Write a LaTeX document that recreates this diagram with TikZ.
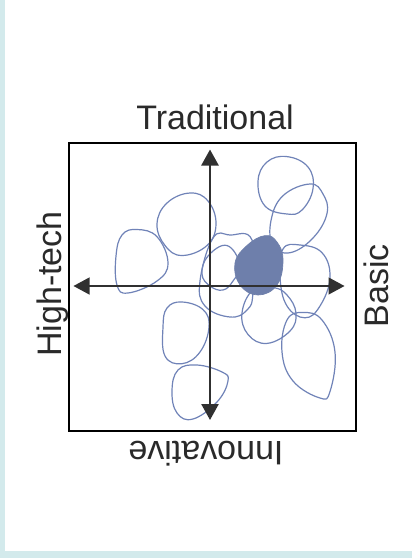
\documentclass[tikz,border=0pt]{standalone}
\usepackage{fontspec}
\setmainfont{Liberation Sans}
\usetikzlibrary{arrows.meta}
\definecolor{bgblue}{HTML}{D3EAEC}
\definecolor{blobline}{HTML}{7083B8}
\definecolor{blobfill}{HTML}{6E7FAB}
\definecolor{axisgray}{HTML}{303030}
\definecolor{textgray}{HTML}{2A2A2A}
\tikzset{
  blob/.style={draw=blobline, line width=0.9pt},
  core/.style={fill=blobfill, draw=blobfill, line width=0.5pt},
  axisline/.style={draw=axisgray, {Triangle[length=12pt,width=12.75pt]}-{Triangle[length=12pt,width=12.75pt]}},
  lab/.style={text=textgray, font=\fontsize{25.5}{30}\selectfont, inner sep=0pt, anchor=base}
}
\begin{document}
\begin{tikzpicture}[x=0.75pt,y=-0.75pt]
\useasboundingbox (0,0) rectangle (412,558);
\fill[bgblue] (0,0) rectangle (412,558);
\fill[white] (5,0) rectangle (412,551);
% blobs
\draw[blob] plot[smooth cycle, tension=0.7] coordinates {(137,229.5) (157,236.7) (168,263) (157,281) (128,293) (117,285) (116,256) (122,235)};
\draw[blob] plot[smooth cycle, tension=0.7] coordinates {(190,193) (208,201) (216,224) (207,245.5) (182,255.5) (165,245.5) (157,224) (167,203)};
\draw[blob] plot[smooth cycle, tension=0.7] coordinates {(287,156.6) (308,167) (313,188.6) (302,210) (287,214) (265,206) (258,181.5) (267,162)};
\draw[blob] plot[smooth cycle, tension=0.7] coordinates {(310,184) (323,194) (327,213.5) (313,238) (290,252.7) (273,245.5) (271,220.6) (283,195.7)};
\draw[blob] plot[smooth cycle, tension=0.7] coordinates {(213,238) (230,235) (252,240) (253,292) (247,310) (230,317) (205,306) (200,281)};
\draw[blob] plot[smooth cycle, tension=0.7] coordinates {(227,245.5) (240,265) (233,281) (223,290) (210,286) (202,274) (208,256)};
\draw[blob] plot[smooth cycle, tension=0.7] coordinates {(283,249) (300,245) (322,252.7) (330,277.6) (320,306) (305,317.8) (287,306) (280,277.6)};
\draw[blob] plot[smooth cycle, tension=0.7] coordinates {(273,287.5) (287,295) (296,313) (290,331) (267,343.4) (248,334.5) (242,313) (253,290)};
\draw[blob] plot[smooth cycle, tension=0.7] coordinates {(303,312.5) (322,320) (335,352) (330,391.5) (320,398) (293,381) (282,352) (287,320)};
\draw[blob] plot[smooth cycle, tension=0.7] coordinates {(182,302) (203,309.6) (209,327) (200,352) (182,363.7) (165,356) (163,327) (167,308)};
\draw[blob] plot[smooth cycle, tension=0.7] coordinates {(197,365) (222,372) (228,381) (217,402) (193,419) (177,413) (172,391) (178,370)};
% filled core
\filldraw[core] plot[smooth cycle, tension=0.7] coordinates {(265,235.6) (277,242) (283,260) (277,285) (258,295) (240,285) (235,263) (247,245.5)};
% frame
\draw[black, line width=1.5pt] (69,143.4) rectangle (356,431.3);
% axes
\coordinate (vt) at (210,149.5);
\coordinate (vb) at (210,420);
\coordinate (hl) at (73.5,286);
\coordinate (hr) at (344.5,286);
\draw[axisline, line width=1.9pt] (vb) -- (vt);
\draw[axisline, line width=0.9pt] (hl) -- (hr);
% labels
\node[lab] (trad) at (215,129.5) {Traditional};
\node[lab, rotate=90] (high) at (61,284) {High-tech};
\node[lab, rotate=90] (basic) at (388,286) {Basic};
\node[lab, rotate=180] (innov) at (206,441) {Innovative};
\end{tikzpicture}
\end{document}
